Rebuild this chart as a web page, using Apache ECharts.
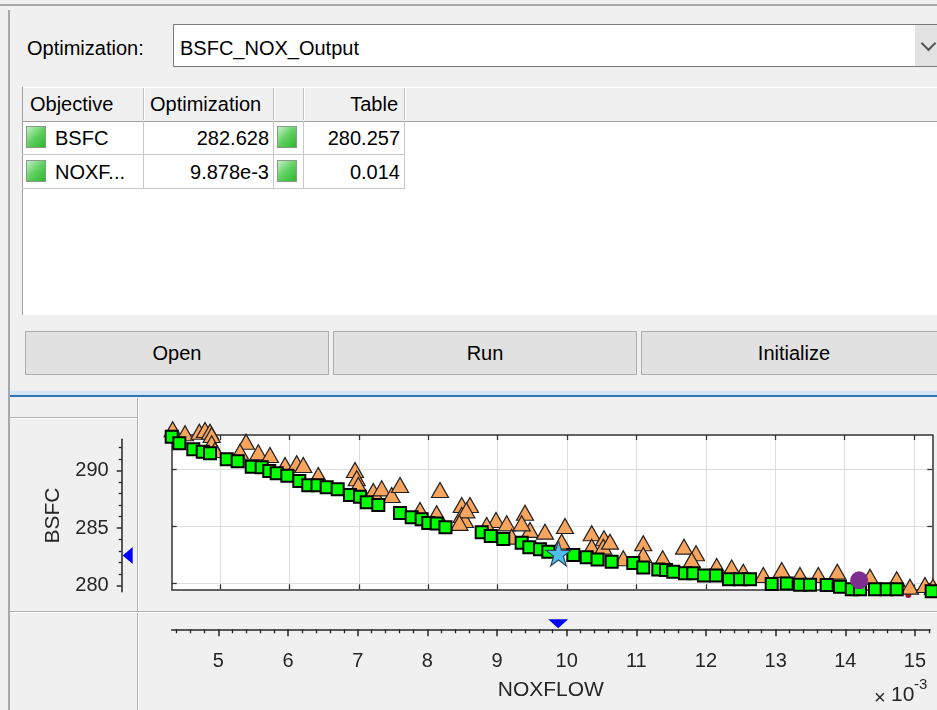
<!DOCTYPE html>
<html><head><meta charset="utf-8">
<script src="https://cdn.jsdelivr.net/npm/echarts@6/dist/echarts.min.js"></script>
<style>
body{margin:0;background:#f0f0f0;font-family:'Liberation Sans',Arial,sans-serif;color:#000;overflow:hidden;width:937px;height:710px;position:relative}
.a{position:absolute}
.t{position:absolute;font-size:20px;line-height:34px;height:34px;white-space:nowrap}
.ic{position:absolute;width:18px;height:20px;border:1px solid #8a9a8a;background:linear-gradient(135deg,#c4f0c4 0%,#5fd05f 50%,#2db82d 100%)}
.btn{position:absolute;top:331px;height:44px;background:#e1e1e1;border:1px solid #adadad;font-size:20px;display:flex;align-items:center;justify-content:center;box-sizing:border-box}
.vl{position:absolute;width:1px;background:#b4b4b4}
.hl{position:absolute;height:1px;background:#c8c8c8}
</style></head><body>
<!-- window frame -->
<div class="a" style="left:0;top:4px;width:937px;height:2px;background:#a8a8a8"></div>
<div class="a" style="left:8px;top:10px;width:2px;height:700px;background:#a8a8a8"></div>
<!-- dropdown -->
<div class="a" style="left:27px;top:31px;font-size:20px;line-height:34px">Optimization:</div>
<div class="a" style="left:173px;top:24px;width:780px;height:41px;border:1px solid #7a7a7a;background:#fff"></div>
<div class="a" style="left:180px;top:31px;font-size:20px;line-height:34px" id="ddText"></div>
<div class="a" style="left:915px;top:25px;width:22px;height:41px;background:#e3e3e3"></div>
<div class="a" style="left:923px;top:38px;width:9px;height:9px;border-right:2px solid #555;border-bottom:2px solid #555;transform:rotate(45deg)"></div>
<!-- table -->
<div class="a" style="left:22px;top:87px;width:915px;height:228px;background:#fff"></div>
<div class="a" style="left:22px;top:87px;width:915px;height:33px;background:#f0f0f0;border-top:1px solid #fff;border-bottom:1px solid #a0a0a0"></div>
<div class="vl" style="left:22px;top:87px;height:228px;background:#a0a0a0"></div>
<div id="tbl"></div>
<!-- buttons -->
<div class="btn" style="left:25px;width:304px">Open</div>
<div class="btn" style="left:333px;width:304px">Run</div>
<div class="btn" style="left:641px;width:306px">Initialize</div>
<!-- splitter -->
<div class="a" style="left:10px;top:391px;width:927px;height:4px;background:#d4e6f7"></div>
<div class="a" style="left:10px;top:395px;width:927px;height:2px;background:#2f74b5"></div>
<!-- bottom panel lines -->
<div class="a" style="left:137px;top:398px;width:1px;height:312px;background:#b0b0b0"></div>
<div class="a" style="left:138px;top:398px;width:1px;height:312px;background:#fff"></div>
<div class="a" style="left:10px;top:417px;width:127px;height:1px;background:#b0b0b0"></div>
<div class="a" style="left:10px;top:418px;width:127px;height:1px;background:#fff"></div>
<div class="a" style="left:10px;top:611px;width:927px;height:1px;background:#b0b0b0"></div>
<div class="a" style="left:10px;top:612px;width:927px;height:1px;background:#fff"></div>
<div id="chart" class="a" style="left:0;top:0;width:937px;height:710px;z-index:5"></div>
<script>
// ---------- data ----------
const optimizationName = 'BSFC_NOX_Output';
const tableHeader = ['Objective', 'Optimization', '', 'Table'];
const objectiveNames = ['BSFC', 'NOXF...'];
const optimizationValues = ['282.628', '9.878e-3'];
const tableValues = ['280.257', '0.014'];
const buttonLabels = ['Open', 'Run', 'Initialize'];

const xMajorTicks = [5, 6, 7, 8, 9, 10, 11, 12, 13, 14, 15];
const yMajorTicks = [280, 285, 290];
const xAxisTitle = 'NOXFLOW';
const yAxisTitle = 'BSFC';

// Pareto front (green squares): NOXFLOW (x1e-3), BSFC
const paretoNox = [4.304,4.414,4.615,4.751,4.856,5.097,5.255,5.457,5.601,5.710,
  5.817,5.970,6.143,6.272,6.405,6.537,6.696,6.873,7.017,7.114,
  7.281,7.594,7.762,7.906,8.001,8.122,8.249,8.771,8.901,9.082,
  9.347,9.457,9.611,9.731,10.091,10.284,10.44,10.644,10.955,11.099,
  11.316,11.427,11.532,11.700,11.820,11.974,12.147,12.334,12.493,12.637,
  12.950,13.166,13.357,13.501,13.742,13.934,14.103,14.222,14.438,14.607,
  14.751,15.255];
const paretoBsfc = [292.86,292.28,291.75,291.54,291.40,290.88,290.70,290.23,290.18,289.85,
  289.65,289.44,288.97,288.60,288.60,288.42,288.25,287.75,287.60,287.11,
  286.87,286.17,285.79,285.61,285.29,285.25,284.91,284.47,284.15,283.89,
  283.56,283.16,282.98,282.77,282.48,282.28,282.09,281.89,281.78,281.39,
  281.21,281.17,281.02,280.88,280.88,280.67,280.67,280.35,280.35,280.35,
  279.94,279.98,279.88,279.88,279.85,279.70,279.47,279.47,279.47,279.47,
  279.47,279.30];

// Table points (orange triangles)
const tableNox = [4.318,4.496,4.702,4.784,4.856,4.880,4.880,4.928,5.375,5.288,
  5.552,5.720,5.937,6.105,6.200,6.416,6.945,6.970,6.993,7.209,
  7.330,7.474,7.594,8.170,7.882,8.122,8.483,8.602,8.483,8.530,
  8.977,9.131,9.395,9.467,9.683,9.971,9.924,10.356,10.533,10.356,
  10.523,8.843,9.203,9.347,10.620,10.811,11.099,11.099,11.379,11.686,
  11.859,11.797,12.157,12.373,12.540,12.829,13.094,13.357,13.621,13.895,
  14.366,14.751,14.942,15.158,15.274,8.55,8.45];
const tableBsfc = [293.51,293.16,293.30,293.45,293.30,293.01,292.28,291.69,292.42,291.54,
  291.49,291.25,290.38,290.53,290.38,289.50,289.94,289.21,288.62,288.10,
  288.33,287.75,288.62,288.18,286.43,286.14,286.87,286.87,285.99,285.55,
  285.55,285.26,286.19,284.68,284.53,285.03,283.65,284.39,283.95,283.21,
  283.21,285.11,284.09,285.26,283.65,282.19,283.51,282.48,282.19,283.21,
  282.63,282.04,281.52,281.39,281.02,280.73,281.17,280.73,280.73,281.02,
  280.58,280.35,279.70,279.85,279.70,286.4,285.3];

const optimumPoint = [9.878, 282.628];      // star (optimization result)
const tablePoint = [14.21, 280.26];         // purple circle (table value)
const hiddenPoint = [14.918, 278.97];       // small dark red marker

// ---------- UI ----------
document.getElementById('ddText').textContent = optimizationName;
(function buildTable(){
  const t = document.getElementById('tbl');
  const colL = [22, 143, 273, 303, 404];
  let h = '';
  h += `<div class="t" style="left:30px;top:87px">${tableHeader[0]}</div>`;
  h += `<div class="t" style="left:150px;top:87px">${tableHeader[1]}</div>`;
  h += `<div class="t" style="left:303px;top:87px;width:95px;text-align:right">${tableHeader[3]}</div>`;
  colL.slice(1).forEach(x => {
    h += `<div class="vl" style="left:${x}px;top:88px;height:32px;background:#c0c0c0"></div>`;
    h += `<div class="vl" style="left:${x+1}px;top:88px;height:32px;background:#fff"></div>`;
  });
  objectiveNames.forEach((n, i) => {
    const top = 121 + i * 34;
    h += `<div class="ic" style="left:26px;top:${top+5}px"></div>`;
    h += `<div class="t" style="left:55px;top:${top}px">${n}</div>`;
    h += `<div class="t" style="left:143px;top:${top}px;width:126px;text-align:right">${optimizationValues[i]}</div>`;
    h += `<div class="ic" style="left:277px;top:${top+5}px"></div>`;
    h += `<div class="t" style="left:303px;top:${top}px;width:97px;text-align:right">${tableValues[i]}</div>`;
    h += `<div class="hl" style="left:22px;top:${top+33}px;width:382px"></div>`;
  });
  colL.slice(1).forEach(x => {
    h += `<div class="vl" style="left:${x}px;top:121px;height:68px;background:#c8c8c8"></div>`;
  });
  t.innerHTML = h;
})();

// ---------- chart ----------
const xMinorTicks = [];
for (let k = 22; k <= 76; k++) { if (k % 5) xMinorTicks.push(k / 5); }
const yMinorTicks = [];
for (let v = 280; v <= 292; v++) { if (yMajorTicks.indexOf(v) < 0) yMinorTicks.push(v); }

const FONT = 'Liberation Sans, Arial, sans-serif';
const AX = '#262626';
const boxLine = {show: true, onZero: false, lineStyle: {color: '#333', width: 1.5}};
const inTick = {show: true, inside: true, length: 5, lineStyle: {color: '#333', width: 1.3}};
const X_MIN = 4.304, X_MAX = 15.264, Y_MIN = 279.47, Y_MAX = 293.01;

const starPath = 'path://M50,0 L61.8,35.4 L99,35.4 L68.9,57.3 L80.4,92.7 L50,70.8 L19.6,92.7 L31.1,57.3 L1,35.4 L38.2,35.4 Z';

const chart = echarts.init(document.getElementById('chart'), null, {renderer: 'canvas'});
chart.setOption({
  animation: false,
  backgroundColor: 'transparent',
  textStyle: {fontFamily: FONT},
  grid: [
    {left: 171.7, top: 435, width: 760.6, height: 154.3, show: true, backgroundColor: '#fff', borderWidth: 0, containLabel: false, outerBoundsMode: 'none'},
    {left: 121.7, top: 439.3, width: 20, height: 152.4, containLabel: false, outerBoundsMode: 'none'},
    {left: 171.7, top: 600, width: 758.3, height: 29.3, containLabel: false, outerBoundsMode: 'none'}
  ],
  xAxis: [
    {gridIndex: 0, type: 'value', min: X_MIN, max: X_MAX, position: 'bottom', axisLine: boxLine,
      axisTick: Object.assign({customValues: xMajorTicks}, inTick), axisLabel: {show: false, customValues: xMajorTicks},
      splitLine: {show: true, lineStyle: {color: '#dedede', width: 1}}},
    {gridIndex: 0, type: 'value', min: X_MIN, max: X_MAX, position: 'top', axisLine: boxLine,
      axisTick: Object.assign({customValues: xMajorTicks}, inTick), axisLabel: {show: false}, splitLine: {show: false}},
    {gridIndex: 1, type: 'value', min: 0, max: 1, show: false},
    {gridIndex: 2, type: 'value', min: 4.33, max: 15.216, position: 'bottom',
      axisLine: {show: true, onZero: false, lineStyle: {color: AX, width: 1.5}},
      axisTick: {show: true, inside: false, length: 7, customValues: xMajorTicks, lineStyle: {color: AX, width: 1.5}},
      axisLabel: {show: true, customValues: xMajorTicks, margin: 22, color: AX, fontSize: 20, fontFamily: FONT},
      splitLine: {show: false},
      name: xAxisTitle, nameLocation: 'middle', nameGap: 50, nameMoveOverlap: false,
      nameTextStyle: {color: AX, fontSize: 21, fontFamily: FONT}},
    {gridIndex: 2, type: 'value', min: 4.33, max: 15.216, position: 'bottom',
      axisLine: {show: false, onZero: false},
      axisTick: {show: true, inside: false, length: 4, customValues: xMinorTicks, lineStyle: {color: AX, width: 1.3}},
      axisLabel: {show: false}, splitLine: {show: false}}
  ],
  yAxis: [
    {gridIndex: 0, type: 'value', min: Y_MIN, max: Y_MAX, position: 'left', axisLine: boxLine,
      axisTick: Object.assign({customValues: yMajorTicks}, inTick), axisLabel: {show: false, customValues: yMajorTicks},
      splitLine: {show: true, lineStyle: {color: '#dedede', width: 1}}},
    {gridIndex: 0, type: 'value', min: Y_MIN, max: Y_MAX, position: 'right', axisLine: boxLine,
      axisTick: Object.assign({customValues: yMajorTicks}, inTick), axisLabel: {show: false}, splitLine: {show: false}},
    {gridIndex: 1, type: 'value', min: 279.48, max: 292.73, position: 'left',
      axisLine: {show: true, onZero: false, lineStyle: {color: AX, width: 1.5}},
      axisTick: {show: true, inside: false, length: 5, customValues: yMajorTicks, lineStyle: {color: AX, width: 1.5}},
      axisLabel: {show: true, customValues: yMajorTicks, margin: 13, color: AX, fontSize: 20, fontFamily: FONT},
      splitLine: {show: false},
      name: yAxisTitle, nameLocation: 'middle', nameGap: 58, nameRotate: 90, nameMoveOverlap: false,
      nameTextStyle: {color: AX, fontSize: 21, fontFamily: FONT}},
    {gridIndex: 1, type: 'value', min: 279.48, max: 292.73, position: 'left',
      axisLine: {show: false, onZero: false},
      axisTick: {show: true, inside: false, length: 3, customValues: yMinorTicks, lineStyle: {color: AX, width: 1.3}},
      axisLabel: {show: false}, splitLine: {show: false}},
    {gridIndex: 2, type: 'value', min: 0, max: 1, show: false}
  ],
  graphic: [
    {type: 'text', left: 874, top: 688, z: 100, style: {text: '×', font: '20px ' + FONT, fill: AX}},
    {type: 'text', left: 891, top: 685, z: 100, style: {text: '10', font: '21px ' + FONT, fill: AX}},
    {type: 'text', left: 914, top: 677, z: 100, style: {text: '-3', font: '15px ' + FONT, fill: AX}}
  ],
  series: [
    {type: 'scatter', xAxisIndex: 0, yAxisIndex: 0, clip: false, silent: true, symbol: 'circle', symbolSize: 6,
      itemStyle: {color: '#a2142f', opacity: 1}, data: [hiddenPoint]},
    {type: 'scatter', name: 'Table', xAxisIndex: 0, yAxisIndex: 0, clip: false, silent: true,
      symbol: 'triangle', symbolSize: [17, 15],
      itemStyle: {color: '#f7a45f', borderColor: '#222', borderWidth: 1.2, opacity: 1},
      data: tableNox.map((x, i) => [x, tableBsfc[i]])},
    {type: 'scatter', name: 'Pareto', xAxisIndex: 0, yAxisIndex: 0, clip: false, silent: true,
      symbol: 'rect', symbolSize: 12,
      itemStyle: {color: '#00ff00', borderColor: '#000', borderWidth: 2, opacity: 1},
      data: paretoNox.map((x, i) => [x, paretoBsfc[i]])},
    {type: 'scatter', xAxisIndex: 0, yAxisIndex: 0, clip: false, silent: true, symbol: 'circle', symbolSize: 18,
      itemStyle: {color: '#7e2f8e', opacity: 1}, data: [tablePoint]},
    {type: 'scatter', xAxisIndex: 0, yAxisIndex: 0, clip: false, silent: true, symbol: starPath, symbolSize: 25,
      itemStyle: {color: '#4dbeee', borderColor: '#33485a', borderWidth: 1.2, opacity: 1}, data: [optimumPoint]},
    {type: 'scatter', xAxisIndex: 2, yAxisIndex: 2, clip: false, silent: true, symbol: 'triangle',
      symbolSize: [17, 10], symbolRotate: 90, symbolOffset: [6, 0],
      itemStyle: {color: '#0000ff', opacity: 1}, data: [[0, optimumPoint[1]]]},
    {type: 'scatter', xAxisIndex: 3, yAxisIndex: 4, clip: false, silent: true, symbol: 'triangle',
      symbolSize: [20, 9], symbolRotate: 180, symbolOffset: [0, -5.5],
      itemStyle: {color: '#0000ff', opacity: 1}, data: [[optimumPoint[0], 0]]}
  ]
});
</script>
</body></html>
